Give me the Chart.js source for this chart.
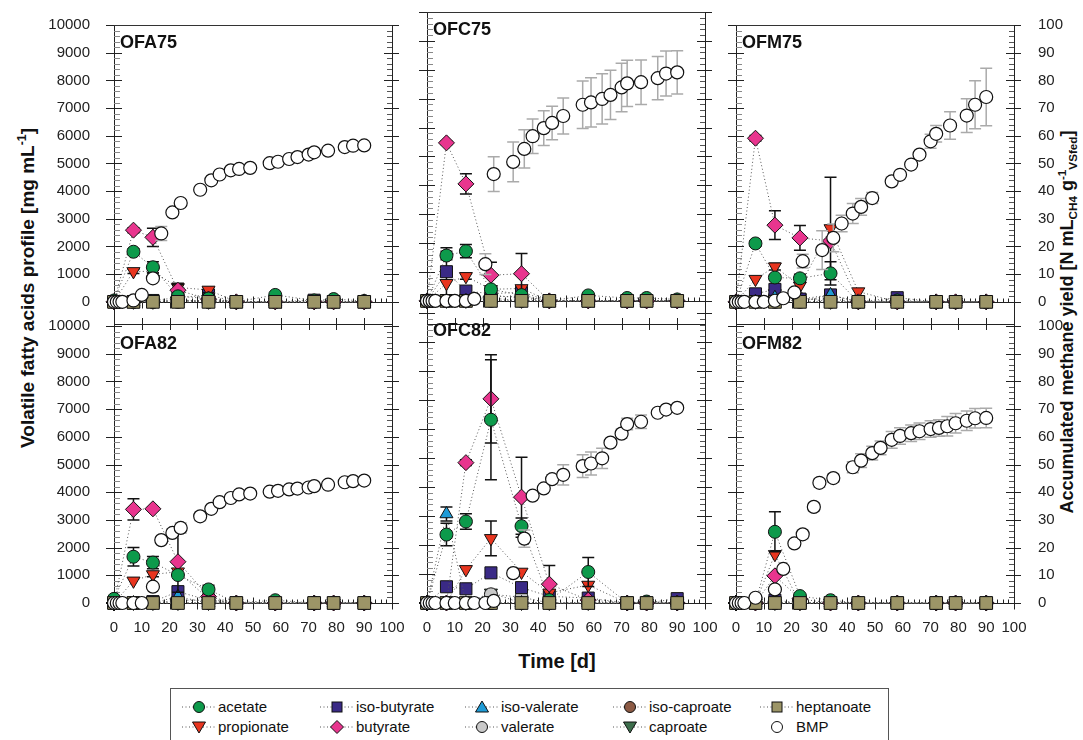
<!DOCTYPE html>
<html>
<head>
<meta charset="utf-8">
<script src="https://cdn.jsdelivr.net/npm/chart.js@4.4.0/dist/chart.umd.min.js"></script>
<style>
  body { margin: 0; background: #fff; width: 1083px; height: 740px; overflow: hidden; position: relative;
         font-family: Arial, "Liberation Sans", sans-serif; color: #111; }
  canvas { position: absolute; }
  .axis-title { position: absolute; font-weight: bold; white-space: nowrap; transform: translate(-50%, -50%) rotate(-90deg); }
  .axis-title sub, .axis-title sup { font-size: 65%; }
  #xtitle { position: absolute; left: 557px; top: 661px; transform: translate(-50%, -50%); font-weight: bold; font-size: 20px; }
  #legend { position: absolute; left: 170px; top: 688px; width: 717px; height: 70px; border: 1px solid #555; }
  .leg-item { position: absolute; font-size: 15px; line-height: 18px; white-space: nowrap; }
  .leg-item svg { position: absolute; top: 1px; }
</style>
</head>
<body>

<div class="axis-title" style="left:27px; top:288px; font-size:19px;">Volatile fatty acids profile [mg mL<sup>-1</sup>]</div>
<div class="axis-title" style="left:1067px; top:322px; font-size:18px;">Accumulated methane yield [N mL<sub>CH4</sub> g<sup>-1</sup><sub>VSfed</sub>]</div>
<div id="xtitle">Time [d]</div>
<div id="legend"></div>

<script>
// sampling days
const vfaDays = [0, 7, 14, 23, 34, 44, 58, 72, 79, 90];
const bmpDays = [0, 1, 2, 3, 7, 10, 14, 17, 21, 24, 31, 35, 38, 42, 45, 49, 56, 59, 63, 66, 70, 72, 77, 83, 86, 90];
const bmpDaysOfm82 = [0, 1, 2, 3, 7, 14, 17, 21, 24, 28, 30, 35, 42, 45, 49, 52, 56, 59, 63, 66, 70, 73, 76, 79, 83, 86, 90];

const xTicks = [0, 10, 20, 30, 40, 50, 60, 70, 80, 90, 100];
const vfaTicks = [0, 1000, 2000, 3000, 4000, 5000, 6000, 7000, 8000, 9000, 10000];
const bmpTicks = [0, 10, 20, 30, 40, 50, 60, 70, 80, 90, 100];

// rows: acetate, propionate, iso-butyrate, butyrate, iso-valerate, valerate, iso-caproate, caproate, heptanoate
const seriesNames = ['acetate', 'propionate', 'iso-butyrate', 'butyrate', 'iso-valerate', 'valerate', 'iso-caproate', 'caproate', 'heptanoate'];
const seriesColors = ['#0d9a4b', '#e8351f', '#3a2a86', '#e8358e', '#1f9bd6', '#c9c9c9', '#8c5a44', '#3d6e4c', '#9c9567'];
const seriesShapes = ['circle', 'triangle', 'rect', 'rectRot', 'triangle', 'circle', 'circle', 'triangle', 'rect'];
const seriesRotation = [0, 180, 0, 0, 0, 0, 0, 180, 0];
const seriesRadius = [6.5, 7.5, 8.5, 8, 7.5, 6.5, 6.5, 7.5, 9];
const seriesOrder = [2, 5, 6, 3, 4, 7, 9, 8, 1];

const ofa75Vfa = [
  [50, 1810, 1250, 200, 120, 0, 250, 50, 100, 30],
  [0, 1100, 1100, 520, 430, 0, 0, 0, 0, 0],
  [0, 0, 50, 150, 250, 0, 0, 60, 0, 0],
  [0, 2590, 2330, 420, 100, 0, 0, 0, 0, 0],
  [0, 0, 0, 50, 50, 0, 0, 0, 0, 0],
  [0, 0, 0, 80, 0, 0, 0, 0, 0, 0],
  [0, 0, 0, 0, 0, 0, 0, 0, 0, 0],
  [0, 0, 0, 50, 0, 0, 0, 0, 0, 0],
  [0, 0, 0, 0, 0, 0, 0, 0, 0, 0]
];
const ofa75VfaErr = [
  [0, 110, 200, 0, 0, 0, 0, 0, 0, 0],
  [0, 80, 60, 150, 100, 0, 0, 0, 0, 0],
  [0, 0, 0, 0, 100, 0, 0, 0, 0, 0],
  [0, 90, 330, 200, 0, 0, 0, 0, 0, 0],
  [], [], [], [], []
];
const ofc75Vfa = [
  [0, 1570, 1720, 400, 200, 0, 190, 100, 100, 50],
  [0, 610, 850, 400, 430, 0, 0, 0, 0, 0],
  [0, 1010, 340, 250, 300, 0, 0, 0, 0, 0],
  [0, 5470, 4050, 890, 940, 0, 0, 0, 0, 0],
  [0, 0, 0, 150, 150, 0, 0, 0, 0, 0],
  [0, 0, 0, 200, 100, 0, 0, 0, 0, 0],
  [0, 0, 0, 0, 0, 0, 0, 0, 0, 0],
  [0, 0, 0, 100, 0, 0, 0, 0, 0, 0],
  [0, 0, 0, 0, 0, 0, 0, 0, 0, 0]
];
const ofc75VfaErr = [
  [0, 150, 230, 0, 0, 0, 0, 0, 0, 0],
  [0, 0, 100, 0, 0, 0, 0, 0, 0, 0],
  [0, 830, 0, 0, 0, 0, 0, 0, 0, 0],
  [0, 60, 350, 450, 700, 0, 0, 0, 0, 0],
  [], [], [], [], []
];
const ofm75Vfa = [
  [0, 2110, 880, 850, 1030, 0, 50, 0, 0, 0],
  [0, 820, 1270, 580, 2650, 370, 0, 0, 0, 0],
  [0, 290, 450, 100, 250, 0, 150, 0, 0, 0],
  [0, 5910, 2770, 2310, 2200, 0, 0, 0, 0, 0],
  [0, 0, 150, 0, 250, 0, 0, 0, 0, 0],
  [0, 0, 200, 100, 100, 0, 0, 0, 0, 0],
  [0, 0, 0, 0, 0, 0, 0, 0, 0, 0],
  [0, 0, 300, 150, 0, 0, 0, 0, 0, 0],
  [0, 0, 0, 0, 0, 0, 0, 0, 0, 0]
];
const ofm75VfaErr = [
  [0, 100, 100, 150, 420, 0, 0, 0, 0, 0],
  [0, 0, 120, 0, 1850, 0, 0, 0, 0, 0],
  [],
  [0, 100, 520, 450, 0, 0, 0, 0, 0, 0],
  [], [], [], [], []
];
const ofa82Vfa = [
  [150, 1670, 1460, 1010, 490, 0, 100, 0, 0, 0],
  [0, 800, 1030, 1130, 150, 0, 0, 0, 0, 0],
  [0, 0, 50, 410, 100, 0, 0, 0, 0, 0],
  [0, 3380, 3400, 1490, 230, 0, 0, 0, 0, 0],
  [0, 0, 0, 230, 0, 0, 0, 0, 0, 0],
  [0, 0, 0, 100, 100, 0, 0, 0, 0, 0],
  [0, 0, 0, 0, 0, 0, 0, 0, 0, 0],
  [0, 0, 0, 0, 0, 0, 0, 0, 0, 0],
  [0, 0, 0, 0, 0, 0, 0, 0, 0, 0]
];
const ofa82VfaErr = [
  [0, 330, 220, 0, 150, 0, 0, 0, 0, 0],
  [0, 0, 80, 0, 0, 0, 0, 0, 0, 0],
  [],
  [0, 380, 60, 1100, 0, 0, 0, 0, 0, 0],
  [], [], [], [], []
];
const ofc82Vfa = [
  [0, 2360, 2810, 6320, 2650, 100, 1070, 0, 50, 0],
  [0, 0, 1160, 2230, 1070, 350, 620, 0, 0, 0],
  [0, 560, 490, 1040, 530, 230, 170, 0, 0, 150],
  [0, 0, 4840, 7040, 3650, 650, 100, 0, 0, 0],
  [0, 3070, 0, 0, 0, 0, 0, 0, 0, 0],
  [0, 0, 0, 300, 200, 0, 0, 0, 0, 0],
  [0, 0, 0, 0, 0, 0, 0, 0, 0, 0],
  [0, 0, 0, 350, 0, 0, 0, 0, 0, 0],
  [0, 0, 0, 0, 0, 0, 0, 0, 0, 0]
];
const ofc82VfaErr = [
  [0, 390, 270, 2070, 280, 0, 500, 0, 0, 0],
  [0, 0, 0, 600, 0, 0, 0, 0, 0, 0],
  [],
  [0, 0, 100, 1520, 1380, 640, 0, 0, 0, 0],
  [0, 240, 0, 0, 0, 0, 0, 0, 0, 0],
  [], [], [], []
];
const ofm82Vfa = [
  [0, 0, 2570, 250, 100, 0, 0, 0, 0, 0],
  [0, 0, 1760, 0, 0, 0, 0, 0, 0, 0],
  [0, 0, 100, 0, 0, 0, 0, 0, 0, 0],
  [0, 0, 980, 150, 0, 0, 0, 0, 0, 0],
  [0, 0, 0, 0, 0, 0, 0, 0, 0, 0],
  [0, 0, 0, 0, 0, 0, 0, 0, 0, 0],
  [0, 0, 0, 0, 0, 0, 0, 0, 0, 0],
  [0, 0, 0, 0, 0, 0, 0, 0, 0, 0],
  [0, 0, 0, 0, 0, 0, 0, 0, 0, 0]
];
const ofm82VfaErr = [
  [0, 0, 720, 0, 0, 0, 0, 0, 0, 0],
  [], [], [], [], [], [], [], []
];

// accumulated methane yield (BMP)
const ofa75Bmp = [0, 0, 0, 0, 0.5, 2.5, 8.5, 24.7, 32.3, 35.7, 40.5, 43.9, 46, 47.5, 48, 48.4, 50.1, 50.6, 51.6, 52.3, 53.2, 54, 54.6, 55.9, 56.4, 56.5];
const ofa75BmpErr = [0, 0, 0, 0, 0.3, 0.5, 1, 2.5, 1, 1, 0.8, 0.8, 0.8, 1, 0.8, 0.8, 0.8, 0.8, 0.8, 0.8, 0.8, 0.8, 0.8, 0.8, 0.8, 0.8];
const ofc75Bmp = [0, 0, 0, 0, 0, 0, 0, 0.7, 12.7, 43.9, 48.1, 52.6, 57, 59.8, 61.6, 64, 67.9, 68.7, 69.9, 71.3, 73.9, 75.3, 75.7, 77.1, 78.7, 79.1];
const ofc75BmpErr = [0, 0, 0, 0, 0, 0, 0, 0.5, 3.6, 6, 6.9, 6.6, 6, 6, 5.8, 6.2, 8.2, 8.5, 8.7, 8.5, 8.4, 8, 7.7, 7.5, 7.8, 7.5];
const ofm75Bmp = [0, 0, 0, 0, 0, 0, 0.4, 1.3, 3.4, 14.7, 18.7, 23.1, 28.3, 31.9, 34.3, 37.5, 43.5, 45.9, 49.6, 53.2, 58, 60.7, 63.7, 67.3, 71.2, 74];
const ofm75BmpErr = [0, 0, 0, 0, 0, 0, 0.3, 0.5, 1, 2.5, 7, 5, 3, 3.6, 3, 2, 1.5, 1, 0.5, 0.5, 2.5, 3, 5, 6.1, 8.7, 10.4];
const ofa82Bmp = [0, 0, 0, 0, 0, 0, 5.9, 22.7, 25.3, 27.1, 31.3, 34, 36.4, 37.9, 39.2, 39.5, 40.2, 40.5, 41, 41.3, 41.7, 42.2, 42.7, 43.6, 44, 44.2];
const ofa82BmpErr = [0, 0, 0, 0, 0, 0, 0.5, 1, 1.5, 1.8, 1.5, 1, 1, 1, 0.8, 0.8, 0.8, 0.8, 0.8, 0.8, 0.8, 0.8, 0.8, 0.8, 0.8, 0.8];
const ofc82Bmp = [0, 0, 0, 0, 0, 0, 0, 0, 0, 0.7, 10.3, 22.2, 37, 39.5, 42.7, 44.2, 47.2, 48.1, 49.9, 55.3, 58.4, 61.7, 62.5, 65.6, 66.7, 67.3];
const ofc82BmpErr = [0, 0, 0, 0, 0, 0, 0, 0, 0, 0.5, 1, 3, 0.8, 0.8, 1.5, 3.5, 3.9, 4, 3.5, 1, 1.5, 2, 2.3, 1, 1, 1];
const ofm82Bmp = [0, 0, 0, 0, 1.9, 4.9, 12.3, 21.5, 24.8, 34.7, 43.4, 45.1, 49, 51.4, 54.1, 56, 58.9, 60.3, 61.3, 62, 62.8, 63.2, 63.8, 64.9, 65.8, 66.7, 66.8];
const ofm82BmpErr = [0, 0, 0, 0, 0.5, 0.5, 0.8, 1.2, 1.5, 1.5, 1.5, 1.5, 2, 2.5, 2.5, 2.5, 3, 3, 3, 3, 3, 3, 3.5, 3.5, 3.5, 3.5, 3.5];

// page geometry of the plot areas
const colLeft = [114, 427, 736];
const plotW = 278;
const rowTop = [24, 325];
const rowHeight = [300, 278];

Chart.defaults.font.family = 'Arial, "Liberation Sans", sans-serif';
Chart.defaults.color = '#222';

const errorBars = {
  id: 'errorBars',
  beforeDatasetDraw (chart, args) {
    const ds = chart.data.datasets[args.index];
    if (!ds.err) return;
    const ys = chart.scales[ds.yAxisID];
    const ctx = chart.ctx;
    ctx.save();
    ctx.strokeStyle = ds.errColor;
    ctx.lineWidth = 1.5;
    args.meta.data.forEach((pt, i) => {
      const e = ds.err[i];
      if (!e) return;
      const v = ds.data[i].y;
      const hi = ys.getPixelForValue(v + e);
      const lo = ys.getPixelForValue(Math.max(v - e, 0));
      ctx.beginPath();
      ctx.moveTo(pt.x, hi); ctx.lineTo(pt.x, lo);
      ctx.moveTo(pt.x - 6, hi); ctx.lineTo(pt.x + 6, hi);
      ctx.moveTo(pt.x - 6, lo); ctx.lineTo(pt.x + 6, lo);
      ctx.stroke();
    });
    ctx.restore();
  }
};

const panelDecor = {
  id: 'panelDecor',
  beforeDatasetsDraw (chart, args, opts) {
    const { ctx, chartArea: a, scales } = chart;
    const r = v => Math.round(v) + 0.5;
    const seg = (x1, y1, x2, y2, c) => {
      ctx.strokeStyle = c || '#222';
      ctx.beginPath(); ctx.moveTo(x1, y1); ctx.lineTo(x2, y2); ctx.stroke();
    };
    ctx.save();
    ctx.lineWidth = 1;
    for (let v = 0; v <= 10000; v += 200) {
      const py = r(scales.y.getPixelForValue(v));
      if (v % 1000 === 0) seg(a.left - 8, py, a.left + 8, py);
      else seg(a.left, py, a.left + 6, py, '#888');
    }
    for (let v = 0; v <= 100; v += 2) {
      const py = r(scales.y2.getPixelForValue(v));
      if (v % 10 === 0) seg(a.right - 8, py, a.right + 7, py);
      else seg(a.right - 5, py, a.right, py, '#555');
    }
    const p0 = r(scales.y.getPixelForValue(0));
    if (opts.top) {
      seg(a.left, p0, a.right, p0);
      seg(a.left, r(a.top), a.right, r(a.top), '#333');
    }
    for (let d = 0; d <= 100; d += 2) {
      const px = r(scales.x.getPixelForValue(d));
      if (d % 10 === 0) {
        seg(px, p0 - 6, px, p0 + 6);
        if (opts.top) seg(px, a.bottom - 6, px, a.bottom + 6);
      } else {
        seg(px, p0 - 4, px, p0);
      }
    }
    ctx.restore();
  },
  afterDraw (chart, args, opts) {
    const { ctx, chartArea: a } = chart;
    ctx.save();
    ctx.font = 'bold 18px Arial, "Liberation Sans", sans-serif';
    ctx.fillStyle = '#111';
    ctx.fillText(opts.name, a.left + 6, a.top + 23);
    ctx.restore();
  }
};

Chart.register(errorBars, panelDecor);

function fixedTicks (list) {
  return (axis) => { axis.ticks = list.map((v) => ({ value: v })) };
}

const plainLabel = (v) => String(v);

function buildPanel (name, row, col, vfa, vfaErr, days, bmp, bmpErr) {
  const top = row === 0;
  const canvas = document.createElement('canvas');
  canvas.width = plotW + 140;
  canvas.height = rowHeight[row] + 64;
  canvas.style.left = (colLeft[col] - 70) + 'px';
  canvas.style.top = (rowTop[row] - 24) + 'px';
  document.body.appendChild(canvas);

  const datasets = seriesNames.map((label, k) => ({
    label: label,
    yAxisID: 'y',
    order: seriesOrder[k],
    data: vfaDays.map((d, i) => ({ x: d, y: vfa[k][i] })),
    err: vfaErr[k],
    errColor: '#111',
    clip: false,
    showLine: true,
    borderColor: '#555',
    borderWidth: 1,
    borderDash: [1, 2.5],
    pointStyle: seriesShapes[k],
    rotation: seriesRotation[k],
    pointRadius: seriesRadius[k],
    pointBackgroundColor: seriesColors[k],
    pointBorderColor: '#111',
    pointBorderWidth: 1
  }));
  datasets.push({
    label: 'BMP',
    yAxisID: 'y2',
    order: 0,
    data: days.map((d, i) => ({ x: d, y: bmp[i] })),
    err: bmpErr,
    errColor: '#aaaaaa',
    clip: false,
    showLine: false,
    pointStyle: 'circle',
    pointRadius: 6.5,
    pointBackgroundColor: '#fff',
    pointBorderColor: '#111',
    pointBorderWidth: 1.2
  });

  return new Chart(canvas, {
    type: 'line',
    data: { datasets: datasets },
    options: {
      responsive: false,
      animation: false,
      devicePixelRatio: 1,
      events: [],
      layout: { padding: { top: 12, left: 0, right: 0, bottom: 0 } },
      plugins: {
        legend: { display: false },
        tooltip: { enabled: false },
        panelDecor: { name: name, top: top }
      },
      scales: {
        x: {
          type: 'linear', min: 0, max: 100,
          afterBuildTicks: fixedTicks(xTicks),
          afterFit: (s) => { s.height = 40 },
          grid: { display: false },
          border: { color: '#222' },
          ticks: { display: !top, padding: 8, font: { size: 15 }, maxRotation: 0, autoSkip: false, callback: plainLabel }
        },
        y: {
          position: 'left', min: top ? -800 : 0, max: 10000,
          afterBuildTicks: fixedTicks(vfaTicks),
          afterFit: (s) => { s.width = 70 },
          grid: { display: false },
          border: { color: '#222' },
          ticks: { display: col === 0, padding: 16, font: { size: 15 }, callback: plainLabel }
        },
        y2: {
          position: 'right', min: top ? -8 : 0, max: 100,
          afterBuildTicks: fixedTicks(bmpTicks),
          afterFit: (s) => { s.width = 70 },
          grid: { display: false },
          border: { color: '#222' },
          ticks: { display: col === 2, padding: 16, font: { size: 15 }, callback: plainLabel }
        }
      }
    }
  });
}

buildPanel('OFA75', 0, 0, ofa75Vfa, ofa75VfaErr, bmpDays, ofa75Bmp, ofa75BmpErr);
buildPanel('OFC75', 0, 1, ofc75Vfa, ofc75VfaErr, bmpDays, ofc75Bmp, ofc75BmpErr);
buildPanel('OFM75', 0, 2, ofm75Vfa, ofm75VfaErr, bmpDays, ofm75Bmp, ofm75BmpErr);
buildPanel('OFA82', 1, 0, ofa82Vfa, ofa82VfaErr, bmpDays, ofa82Bmp, ofa82BmpErr);
buildPanel('OFC82', 1, 1, ofc82Vfa, ofc82VfaErr, bmpDays, ofc82Bmp, ofc82BmpErr);
buildPanel('OFM82', 1, 2, ofm82Vfa, ofm82VfaErr, bmpDaysOfm82, ofm82Bmp, ofm82BmpErr);

// legend
function markerSvg (k, withLine) {
  const fill = k < 0 ? '#fff' : seriesColors[k];
  const shape = k < 0 ? 'circle' : seriesShapes[k];
  const st = `fill="${fill}" stroke="#111" stroke-width="1"`;
  let m;
  if (shape === 'circle') m = `<circle cx="18" cy="8" r="5.5" ${st}/>`;
  else if (shape === 'rect') m = `<rect x="13" y="3" width="10" height="10" ${st}/>`;
  else if (shape === 'rectRot') m = `<polygon points="18,1.5 24.5,8 18,14.5 11.5,8" ${st}/>`;
  else if (seriesRotation[k] === 180) m = `<polygon points="11.5,3 24.5,3 18,14" ${st}/>`;
  else m = `<polygon points="18,2 24.5,13 11.5,13" ${st}/>`;
  const line = withLine ? '<line x1="1" y1="8" x2="35" y2="8" stroke="#555" stroke-width="1" stroke-dasharray="1 2.5"/>' : '';
  return `<svg width="36" height="16">${line}${m}</svg>`;
}

const legendCols = [[0, 1], [2, 3], [4, 5], [6, 7], [8, -1]];
const legendTextX = [217, 355, 500, 648, 795];
const legendRowY = [707, 727];
const legendBox = document.getElementById('legend');
legendCols.forEach((pair, c) => {
  pair.forEach((k, rIdx) => {
    const item = document.createElement('div');
    item.className = 'leg-item';
    item.style.left = (legendTextX[c] - 170 - 37) + 'px';
    item.style.top = (legendRowY[rIdx] - 688 - 10) + 'px';
    item.innerHTML = markerSvg(k, k >= 0) + `<span style="margin-left:37px">${k < 0 ? 'BMP' : seriesNames[k]}</span>`;
    legendBox.appendChild(item);
  });
});
</script>
</body>
</html>
